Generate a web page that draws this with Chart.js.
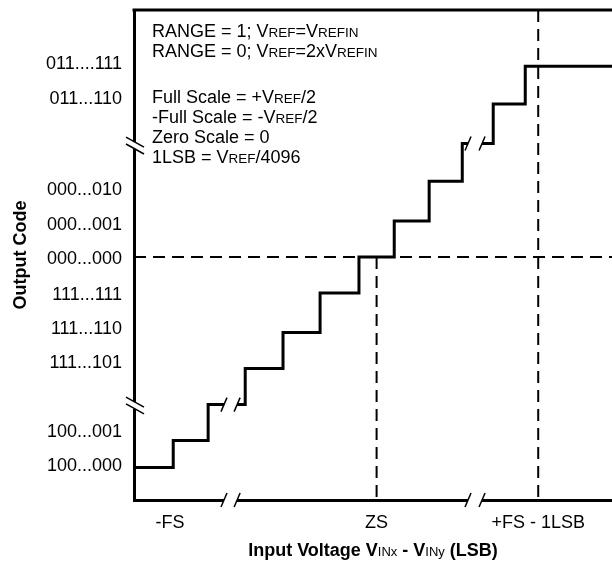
<!DOCTYPE html>
<html>
<head>
<meta charset="utf-8">
<script src="https://cdn.jsdelivr.net/npm/chart.js@4.4.1/dist/chart.umd.min.js"></script>
<style>
html, body { margin: 0; padding: 0; background: #fff; }
</style>
</head>
<body>
<canvas id="myChart" width="612" height="562"></canvas>
<script>
// transfer function, x and y in LSB from zero scale
let riserX = [-6.74, -5.65, -4.68, -3.65, -2.6, -1.57, -0.49, 0.49, 1.46, 2.38, 3.24, 4.13, 6.54];
let codeLevel = [-5.85, -5.1, -4.1, -3.1, -2.1, -1, 0, 1, 2.1, 3.15, 4.25, 5.3, 5.3];

let yTickValues = [5.35, 4.4, 1.85, 0.9, -0.05, -1.05, -2, -2.95, -4.85, -5.8];
let yTickLabels = ['011....111', '011...110', '000...010', '000...001', '000...000',
                   '111...111', '111...110', '111...101', '100...001', '100...000'];
let xTickValues = [-5.74, 0, 4.49];
let xTickLabels = ['-FS', 'ZS', '+FS - 1LSB'];

let xMin = -6.74, xMax = 6.54, yMin = -6.75, yMax = 6.86;
let zeroScale = 0, fullScaleLine = 4.49;

// axis breaks (pairs of slash positions)
let xBreaks = [[-4.24, -3.875], [2.54, 2.93]];
let yBreaks = [[3.19, 3.0], [-4.03, -4.22]];

let notes = [
    'RANGE = 1; V{REF}=V{REFIN}',
    'RANGE = 0; V{REF}=2xV{REFIN}',
    '',
    'Full Scale = +V{REF}/2',
    '-Full Scale = -V{REF}/2',
    'Zero Scale = 0',
    '1LSB = V{REF}/4096'
];
let noteBaselines = [37, 57, 0, 103, 123, 143, 163];

let FONT = '"Liberation Sans", Arial, sans-serif';

// text with {small caps} parts
function drawRuns(ctx, str, x, y, big, small, weight, smallWeight, center) {
    let parts = str.split(/(\{[^}]*\})/).filter(p => p.length);
    let runs = parts.map(p => p[0] == '{' ? {t: p.slice(1, -1), f: smallWeight + ' ' + small + 'px ' + FONT}
                                           : {t: p, f: weight + ' ' + big + 'px ' + FONT});
    let w = 0;
    runs.forEach(r => { ctx.font = r.f; r.w = ctx.measureText(r.t).width; w += r.w; });
    let cx = center ? x - w / 2 : x;
    ctx.textAlign = 'left';
    ctx.textBaseline = 'alphabetic';
    runs.forEach(r => { ctx.font = r.f; ctx.fillText(r.t, cx, y); cx += r.w; });
}

function levelAt(x) {
    let lvl = codeLevel[0];
    for (let i = 0; i < riserX.length; i++) {
        if (riserX[i] <= x) lvl = codeLevel[i];
    }
    return lvl;
}

let extras = {
    id: 'extras',
    afterDraw(chart) {
        let ctx = chart.ctx;
        let a = chart.chartArea;
        let xs = chart.scales.x, ys = chart.scales.y;
        ctx.save();
        // top frame line
        ctx.strokeStyle = '#000';
        ctx.lineWidth = 3;
        ctx.beginPath();
        ctx.moveTo(a.left - 1.5, a.top);
        ctx.lineTo(a.right, a.top);
        ctx.stroke();

        // x breaks: on the axis and on the staircase
        xBreaks.forEach(b => {
            let p1 = xs.getPixelForValue(b[0]), p2 = xs.getPixelForValue(b[1]);
            let lvl = ys.getPixelForValue(levelAt((b[0] + b[1]) / 2));
            [a.bottom, lvl].forEach(py => {
                ctx.fillStyle = '#fff';
                ctx.fillRect(p1, py - 3, p2 - p1, 6);
                ctx.strokeStyle = '#000';
                ctx.lineWidth = 1.5;
                [p1, p2].forEach(px => {
                    ctx.beginPath();
                    ctx.moveTo(px - 3, py + 7);
                    ctx.lineTo(px + 3, py - 7);
                    ctx.stroke();
                });
            });
        });

        // y breaks on the axis
        yBreaks.forEach(b => {
            let p1 = ys.getPixelForValue(b[0]), p2 = ys.getPixelForValue(b[1]);
            ctx.fillStyle = '#fff';
            ctx.fillRect(a.left - 3, p1, 6, p2 - p1);
            ctx.strokeStyle = '#000';
            ctx.lineWidth = 1.5;
            [p1, p2].forEach(py => {
                ctx.beginPath();
                ctx.moveTo(a.left - 8, py - 5);
                ctx.lineTo(a.left + 10, py + 5);
                ctx.stroke();
            });
        });

        // notes
        ctx.fillStyle = '#000';
        notes.forEach((n, i) => {
            if (n) drawRuns(ctx, n, a.left + 18, noteBaselines[i], 18, 13.5, 'normal', 'normal', false);
        });

        // x axis title
        drawRuns(ctx, 'Input Voltage V{INx} - V{INy} (LSB)', (a.left + a.right) / 2, 556, 18, 13, 'bold', 'normal', true);
        ctx.restore();
    }
};

let steps = riserX.map((x, i) => ({x: x, y: codeLevel[i]}));
let dashed = {borderColor: '#000', borderWidth: 2, borderDash: [12, 7], pointRadius: 0, fill: false};

let ctx = document.getElementById('myChart').getContext('2d');
let chart = new Chart(ctx, {
    type: 'line',
    data: {
        datasets: [
            {data: steps, stepped: true, borderColor: '#000', borderWidth: 3, pointRadius: 0, fill: false},
            Object.assign({data: [{x: xMin, y: zeroScale}, {x: xMax, y: zeroScale}]}, dashed),
            Object.assign({data: [{x: zeroScale, y: zeroScale}, {x: zeroScale, y: yMin}]}, dashed),
            Object.assign({data: [{x: fullScaleLine, y: yMax}, {x: fullScaleLine, y: yMin}]}, dashed)
        ]
    },
    options: {
        responsive: false,
        animation: false,
        events: [],
        layout: {padding: {top: 10, right: 0, left: 0, bottom: 0}},
        plugins: {legend: {display: false}, tooltip: {enabled: false}},
        scales: {
            x: {
                type: 'linear', min: xMin, max: xMax,
                grid: {display: false, drawTicks: false},
                border: {color: '#000', width: 3},
                afterFit: s => { s.height = 62; s.paddingLeft = 0; s.paddingRight = 0; },
                afterBuildTicks: s => { s.ticks = xTickValues.map(v => ({value: v})); },
                ticks: {
                    autoSkip: false, maxRotation: 0, padding: 12, color: '#000',
                    font: {family: FONT, size: 18},
                    callback: (v, i) => xTickLabels[i]
                }
            },
            y: {
                type: 'linear', min: yMin, max: yMax,
                grid: {display: false, drawTicks: false},
                border: {color: '#000', width: 3},
                afterFit: s => { s.width = 134; s.paddingTop = 0; s.paddingBottom = 0; },
                afterBuildTicks: s => { s.ticks = yTickValues.map(v => ({value: v})); },
                ticks: {
                    autoSkip: false, padding: 12, color: '#000',
                    font: {family: FONT, size: 18},
                    callback: (v, i) => yTickLabels[i]
                },
                title: {
                    display: true, text: 'Output Code', color: '#000',
                    font: {family: FONT, size: 18, weight: 'bold'},
                    padding: {top: 10, bottom: 0}
                }
            }
        }
    },
    plugins: [extras]
});
</script>
</body>
</html>
